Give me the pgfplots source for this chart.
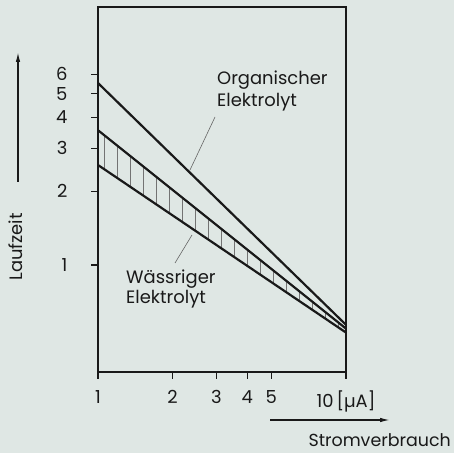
\documentclass[border=0pt]{standalone}
\usepackage{fontspec}
\setmainfont{Poppins}
\usepackage{pgfplots}
\pgfplotsset{compat=1.18}
\usetikzlibrary{patterns.meta,arrows.meta}
\definecolor{bg}{RGB}{223,231,228}
\definecolor{ink}{RGB}{25,25,25}
\begin{document}
\begin{tikzpicture}
\fill[bg] (0bp,0bp) rectangle (454bp,453bp);
\path[use as bounding box] (0bp,0bp) rectangle (454bp,453bp);
\begin{axis}[
  at={(98bp,81bp)}, anchor=south west,
  scale only axis, width=248bp, height=365bp,
  xmode=log, ymode=log,
  xmin=1, xmax=10, ymin=0.366, ymax=11.3,
  xtick={1,2,3,4,5,10}, xticklabels={1,2,3,4,5,{10\,[µA]}},
  ytick={1,2,3,4,5,6}, yticklabels={1,2,3,4,5,6},
  minor xtick={}, minor ytick={},
  tick pos=left, tick align=outside,
  major tick length=7bp,
  tick style={line width=1.2bp, ink},
  axis line style={line width=1.7bp, ink},
  ticklabel style={font=\fontsize{18}{20}\selectfont, text=ink},
  yticklabel style={xshift=-20bp},
  xticklabel style={yshift=-8bp},
  clip=false,
]
\addplot[draw=none, pattern={Lines[angle=90,distance=13bp,line width=0.7bp]}, pattern color=black!55] coordinates {(1,3.55) (10,0.55) (10,0.53) (1,2.56)} -- cycle;
\addplot[line width=2.2bp, ink] coordinates {(1,5.53) (10,0.57)};
\addplot[line width=2.2bp, ink] coordinates {(1,3.55) (10,0.55)};
\addplot[line width=2.2bp, ink] coordinates {(1,2.56) (10,0.53)};
\end{axis}
\draw[line width=0.6bp, black!60] (215bp,336bp) -- (190bp,283bp);
\draw[line width=0.6bp, black!60] (192bp,218bp) -- (175bp,190bp);
\node[anchor=west, align=left, inner sep=0pt, font=\fontsize{18}{22}\selectfont, text=ink] at (217bp,362bp) {Organischer\\Elektrolyt};
\node[anchor=west, align=left, inner sep=0pt, font=\fontsize{18}{21}\selectfont, text=ink] at (126bp,164bp) {Wässriger\\Elektrolyt};
\node[rotate=90, inner sep=0pt, font=\fontsize{18}{20}\selectfont, text=ink] at (16bp,206bp) {Laufzeit};
\draw[line width=1.3bp, ink, -{Latex[length=10bp,width=4.5bp]}] (18bp,271bp) -- (18bp,401bp);
\draw[line width=1.3bp, ink, -{Latex[length=10bp,width=4.5bp]}] (270bp,33bp) -- (390bp,33bp);
\node[anchor=east, inner sep=0pt, font=\fontsize{17.5}{20}\selectfont, text=ink] at (451bp,13bp) {Stromverbrauch};
\end{tikzpicture}
\end{document}
